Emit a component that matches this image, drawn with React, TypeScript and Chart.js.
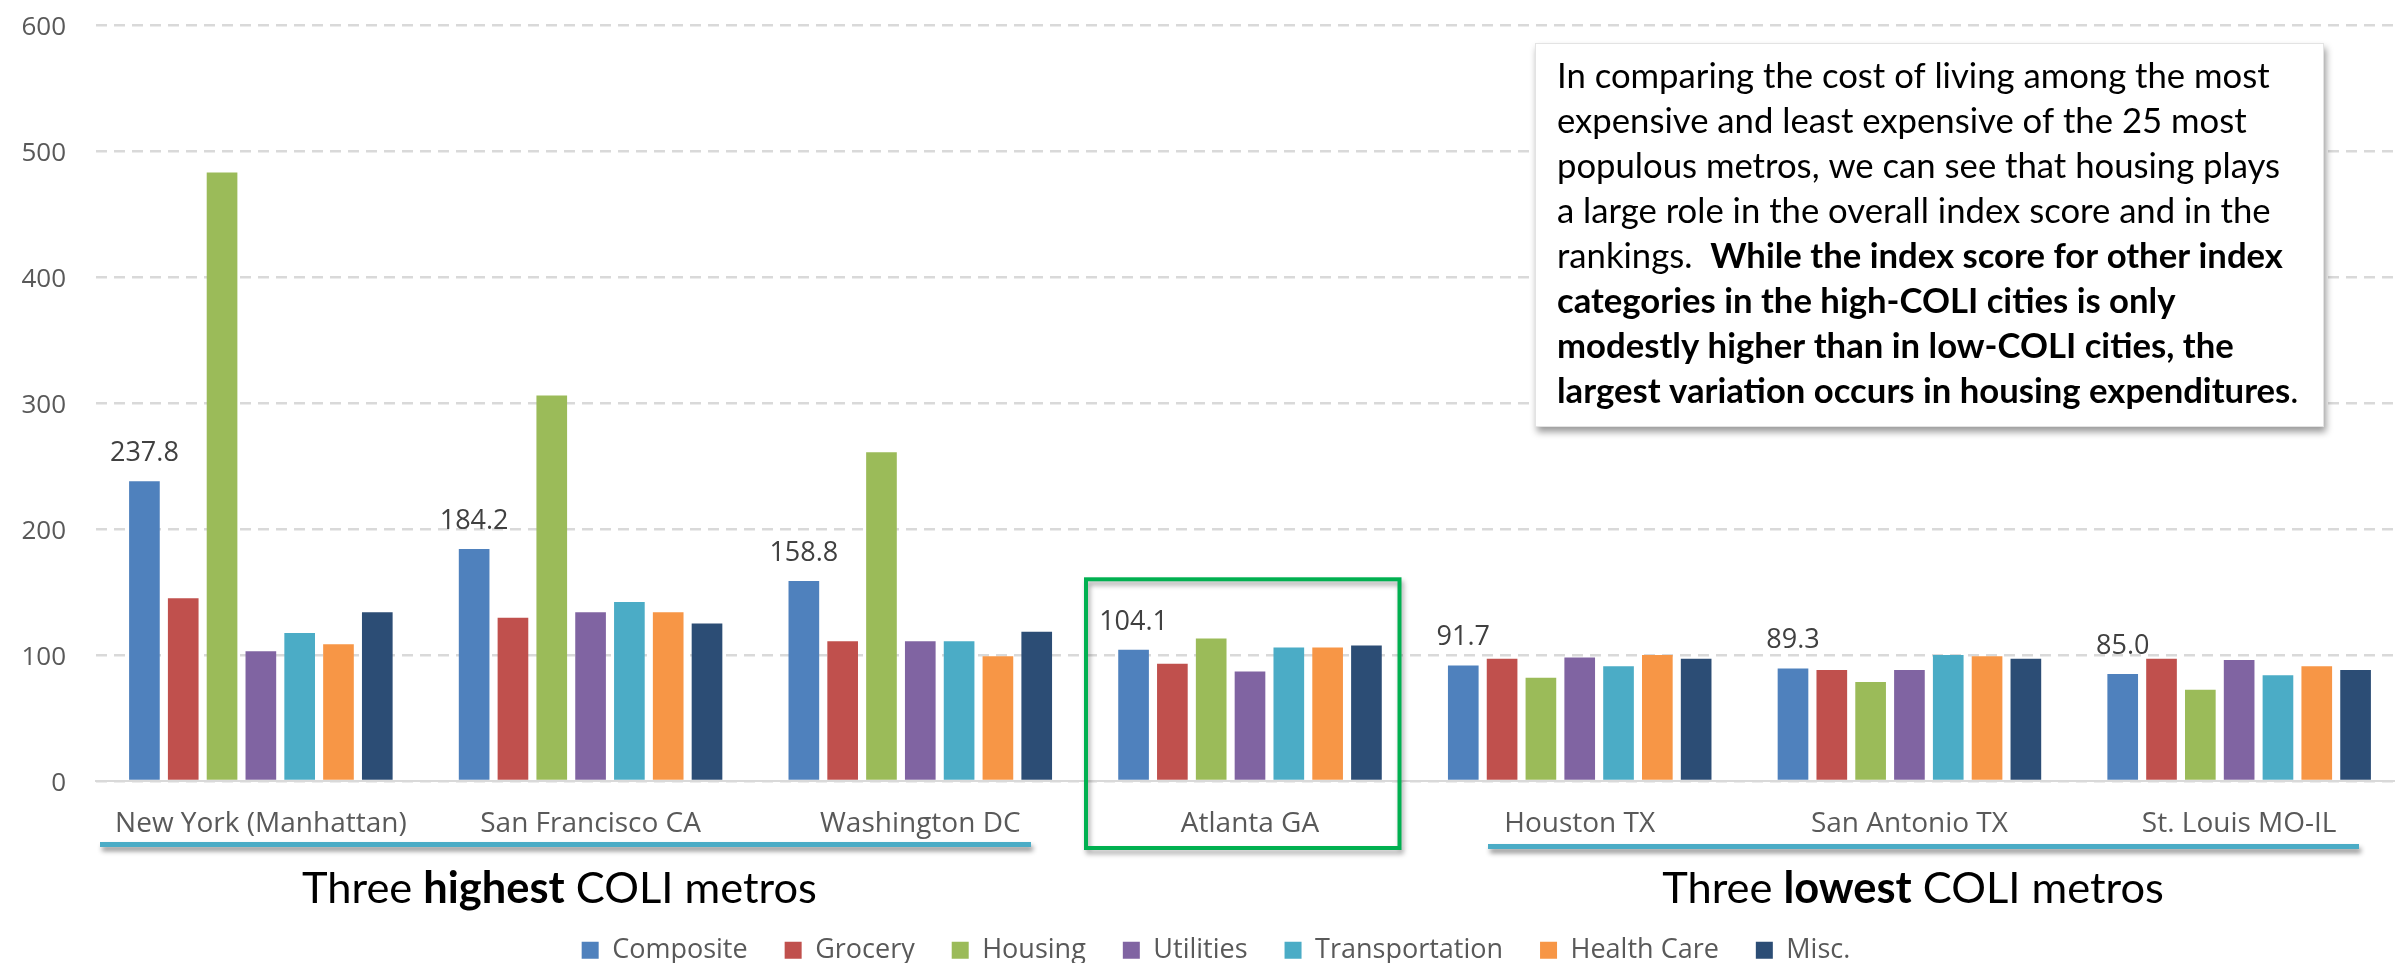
import React, { useEffect, useRef } from 'react';
import { Chart, registerables } from 'chart.js';

Chart.register(...registerables);

const categories = [
  'New York (Manhattan)',
  'San Francisco CA',
  'Washington DC',
  'Atlanta GA',
  'Houston TX',
  'San Antonio TX',
  'St. Louis MO-IL',
];

const seriesNames = ['Composite', 'Grocery', 'Housing', 'Utilities', 'Transportation', 'Health Care', 'Misc.'];
const seriesColors = ['#4F81BD', '#C0504D', '#9BBB59', '#8064A2', '#4BACC6', '#F79646', '#2C4D75'];

const composite = [237.8, 184.2, 158.8, 104.1, 91.7, 89.3, 85.0];
const grocery = [145, 129.5, 111, 93, 97, 88, 97];
const housing = [483, 306, 261, 113, 82, 78.5, 72.5];
const utilities = [103, 134, 111, 87, 98, 88, 96];
const transportation = [117.5, 142, 111, 106, 91, 100, 84];
const healthCare = [108.5, 134, 99, 106, 100, 99, 91];
const misc = [134, 125, 118.5, 107.5, 97, 97, 88];

const seriesValues = [composite, grocery, housing, utilities, transportation, healthCare, misc];

const yMin = 0;
const yMax = 600;
const yStep = 100;

const groupTitleHigh: [string, boolean][] = [['Three ', false], ['highest', true], [' COLI metros', false]];
const groupTitleLow: [string, boolean][] = [['Three ', false], ['lowest', true], [' COLI metros', false]];

const noteLines: [string, boolean][][] = [
  [['In comparing the cost of living among the most', false]],
  [['expensive and least expensive of the 25 most', false]],
  [['populous metros, we can see that housing plays', false]],
  [['a large role in the overall index score and in the', false]],
  [['rankings.  ', false], ['While the index score for other index', true]],
  [['categories in the high-COLI cities is only', true]],
  [['modestly higher than in low-COLI cities, the', true]],
  [['largest variation occurs in housing expenditures', true], ['.', false]],
];

const AXIS_FONT = '"Open Sans", "DejaVu Sans", sans-serif';
const NOTE_FONT = 'Lato, "Open Sans", sans-serif';

function fontStr(size: number, bold: boolean, family: string) {
  return `${bold ? 'bold ' : ''}${size}px ${family}`;
}

function runsWidth(ctx: CanvasRenderingContext2D, runs: [string, boolean][], size: number, family: string) {
  let w = 0;
  for (const [t, b] of runs) {
    ctx.font = fontStr(size, b, family);
    w += ctx.measureText(t).width;
  }
  return w;
}

function drawRuns(ctx: CanvasRenderingContext2D, runs: [string, boolean][], x: number, y: number, size: number, family: string) {
  let cx = x;
  for (const [t, b] of runs) {
    ctx.font = fontStr(size, b, family);
    ctx.fillText(t, cx, y);
    cx += ctx.measureText(t).width;
  }
}

const legendShiftPlugin = {
  id: 'legendShift',
  afterLayout(chart: any) {
    const lg = chart.legend;
    if (lg) {
      lg.left += 14;
      lg.right += 14;
    }
  },
};

const valueLabelPlugin = {
  id: 'valueLabels',
  afterDatasetsDraw(chart: any) {
    const ctx: CanvasRenderingContext2D = chart.ctx;
    const meta = chart.getDatasetMeta(0);
    ctx.save();
    ctx.fillStyle = '#404040';
    ctx.font = fontStr(27, false, AXIS_FONT);
    ctx.textAlign = 'center';
    ctx.textBaseline = 'middle';
    meta.data.forEach((bar: any, i: number) => {
      ctx.fillText(composite[i].toFixed(1), bar.x, bar.y - 28);
    });
    ctx.restore();
  },
};

const annotationPlugin = {
  id: 'annotations',
  afterDraw(chart: any) {
    const ctx: CanvasRenderingContext2D = chart.ctx;
    ctx.save();

    const underline = (x1: number, x2: number, y: number) => {
      ctx.save();
      ctx.shadowColor = 'rgba(0,0,0,0.45)';
      ctx.shadowBlur = 5;
      ctx.shadowOffsetX = 2;
      ctx.shadowOffsetY = 4;
      ctx.strokeStyle = '#4BACC6';
      ctx.lineWidth = 5;
      ctx.lineCap = 'butt';
      ctx.beginPath();
      ctx.moveTo(x1, y);
      ctx.lineTo(x2, y);
      ctx.stroke();
      ctx.restore();
    };
    underline(100, 1031, 844.5);
    underline(1488, 2359, 846.5);

    ctx.save();
    ctx.shadowColor = 'rgba(0,0,0,0.35)';
    ctx.shadowBlur = 5;
    ctx.shadowOffsetX = 2;
    ctx.shadowOffsetY = 4;
    ctx.strokeStyle = '#00B050';
    ctx.lineWidth = 4;
    ctx.strokeRect(1086, 579.3, 1399.5 - 1086, 848 - 579.3);
    ctx.restore();

    ctx.fillStyle = '#000000';
    ctx.textAlign = 'left';
    ctx.textBaseline = 'alphabetic';
    const baseT = 44;
    const wT = runsWidth(ctx, groupTitleHigh, baseT, NOTE_FONT);
    const tSize = (baseT * 515) / wT;
    drawRuns(ctx, groupTitleHigh, 302, 903, tSize, NOTE_FONT);
    const wLow = runsWidth(ctx, groupTitleLow, tSize, NOTE_FONT);
    drawRuns(ctx, groupTitleLow, 1913 - wLow / 2, 903, tSize, NOTE_FONT);

    const bx = 1535, by = 43, bw = 2324 - 1535, bh = 427 - 43;
    ctx.save();
    ctx.shadowColor = 'rgba(0,0,0,0.4)';
    ctx.shadowBlur = 7;
    ctx.shadowOffsetX = 2;
    ctx.shadowOffsetY = 5;
    ctx.fillStyle = '#FFFFFF';
    ctx.fillRect(bx, by, bw, bh);
    ctx.restore();
    ctx.strokeStyle = '#E3E3E3';
    ctx.lineWidth = 1;
    ctx.strokeRect(bx + 0.5, by + 0.5, bw - 1, bh - 1);

    const baseN = 30;
    const w1 = runsWidth(ctx, noteLines[0], baseN, NOTE_FONT);
    const nSize = (baseN * 713) / w1;
    ctx.fillStyle = '#000000';
    noteLines.forEach((runs, i) => {
      drawRuns(ctx, runs, 1557, 88.3 + i * 45, nSize, NOTE_FONT);
    });

    ctx.restore();
  },
};

export default function App() {
  const canvasRef = useRef<HTMLCanvasElement | null>(null);

  useEffect(() => {
    document.body.style.margin = '0';
    document.body.style.overflow = 'hidden';
    const canvas = canvasRef.current;
    if (!canvas) return;

    const chart = new Chart(canvas, {
      type: 'bar',
      data: {
        labels: categories,
        datasets: seriesNames.map((name, i) => ({
          label: name,
          data: seriesValues[i],
          backgroundColor: seriesColors[i],
          borderWidth: 0,
          categoryPercentage: 0.824,
          barPercentage: 0.79,
        })),
      },
      options: {
        responsive: false,
        animation: false,
        devicePixelRatio: 1,
        layout: { padding: { left: 0, right: 0, top: 25, bottom: -10.7 } },
        plugins: {
          legend: {
            position: 'bottom',
            labels: {
              boxWidth: 17,
              boxHeight: 17,
              padding: 37,
              color: '#595959',
              font: { family: AXIS_FONT, size: 27 },
            },
          },
          tooltip: { enabled: false },
        },
        scales: {
          x: {
            grid: { display: false, drawTicks: false },
            border: { display: true, color: '#D9D9D9', width: 2 },
            ticks: {
              color: '#595959',
              font: { family: AXIS_FONT, size: 28 },
              padding: 26,
              maxRotation: 0,
              autoSkip: false,
            },
            afterFit: (s: any) => {
              s.height = 118.7;
            },
          },
          y: {
            min: yMin,
            max: yMax,
            ticks: {
              stepSize: yStep,
              color: '#595959',
              font: { family: AXIS_FONT, size: 26 },
              padding: 0,
              labelOffset: 2.5,
            },
            grid: {
              color: '#D9D9D9',
              lineWidth: 2.5,
              drawTicks: true,
              tickLength: 30,
              tickColor: 'rgba(0,0,0,0)',
            },
            border: { display: false, dash: [11, 7] },
            afterFit: (s: any) => {
              s.width = 96;
            },
          },
        },
      },
      plugins: [legendShiftPlugin, valueLabelPlugin, annotationPlugin],
    });

    return () => {
      chart.destroy();
    };
  }, []);

  return (
    <div style={{ position: 'relative', width: 2395, height: 963, overflow: 'hidden', background: '#FFFFFF' }}>
      <canvas ref={canvasRef} width={2404} height={963} style={{ display: 'block', width: 2404, height: 963 }} />
    </div>
  );
}
